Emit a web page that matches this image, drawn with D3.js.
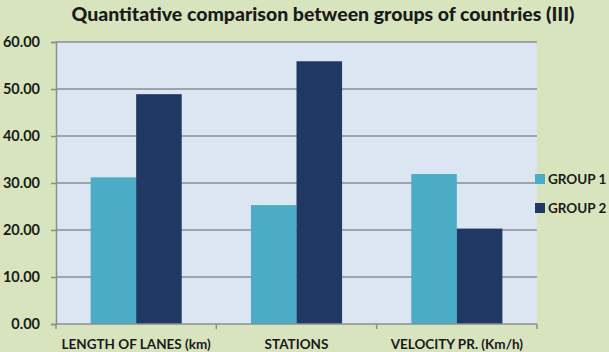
<!DOCTYPE html>
<html>
<head>
<meta charset="utf-8">
<script src="https://cdn.jsdelivr.net/npm/d3@7/dist/d3.min.js"></script>
<style>
  html, body { margin: 0; padding: 0; background: #d7e4bd; }
  svg { display: block; }
  text { font-family: Lato, "Open Sans", sans-serif; font-weight: bold; fill: #1a1a1a; }
</style>
</head>
<body>
<svg id="chart" width="609" height="352"></svg>
<script>
const title = "Quantitative comparison  between groups of countries (III)";
const categories = ["LENGTH OF LANES (km)", "STATIONS", "VELOCITY PR. (Km/h)"];
const seriesNames = ["GROUP 1", "GROUP 2"];
const group1 = [31.2, 25.3, 31.9];
const group2 = [48.9, 55.9, 20.3];
const yTicks = [0, 10, 20, 30, 40, 50, 60];
const colors = ["#4bacc6", "#1f3864"];

const svg = d3.select("#chart");
const W = 609, H = 352;
const m = { left: 56, right: 72, top: 42, bottom: 28 };
const x0 = m.left, x1 = W - m.right, yTop = m.top, yBot = H - m.bottom;

svg.append("rect").attr("width", W).attr("height", H).attr("fill", "#d7e4bd");

const x = d3.scaleBand().domain(categories).range([x0, x1]).paddingInner(0).paddingOuter(0);
const xs = d3.scaleBand().domain(seriesNames).range([0, x.bandwidth()]).paddingInner(0).paddingOuter(0.76);
const y = d3.scaleLinear().domain([0, 60]).range([yBot, yTop]);

// plot area
svg.append("rect").attr("x", x0).attr("y", yTop).attr("width", x1 - x0).attr("height", yBot - yTop).attr("fill", "#dce6f2");

// gridlines
svg.append("g").selectAll("line").data(yTicks.filter(d => d > 0)).join("line")
  .attr("x1", x0).attr("x2", x1).attr("y1", d => y(d)).attr("y2", d => y(d))
  .attr("stroke", "#8a8e94").attr("stroke-width", 1.5);

// bars
const data = categories.map((c, i) => ({ c, vals: [group1[i], group2[i]] }));
const g = svg.append("g").selectAll("g").data(data).join("g")
  .attr("transform", d => `translate(${x(d.c)},0)`);
g.selectAll("rect").data(d => d.vals.map((v, j) => ({ v, s: seriesNames[j], j }))).join("rect")
  .attr("x", d => xs(d.s)).attr("width", xs.bandwidth())
  .attr("y", d => y(d.v)).attr("height", d => yBot - y(d.v))
  .attr("fill", d => colors[d.j]);

// y axis
const yAxis = d3.axisLeft(y).tickValues(yTicks).tickFormat(d3.format(".2f")).tickSize(5).tickPadding(11);
const ya = svg.append("g").attr("transform", `translate(${x0},0)`).call(yAxis);
ya.select(".domain").attr("stroke", "#8a8e94").attr("stroke-width", 1.5);
ya.selectAll(".tick line").attr("stroke", "#8a8e94").attr("stroke-width", 1.5);
ya.selectAll(".tick text").style("font-size", "14.5px").attr("fill", "#1a1a1a");

// x axis
const xa = svg.append("g").attr("transform", `translate(0,${yBot})`);
xa.append("line").attr("x1", x0).attr("x2", x1).attr("y1", 0).attr("y2", 0).attr("stroke", "#8a8e94").attr("stroke-width", 1.5);
const bounds = categories.map(c => x(c)).concat([x1]);
xa.selectAll("line.tk").data(bounds).join("line").attr("class", "tk")
  .attr("x1", d => d).attr("x2", d => d).attr("y1", 0).attr("y2", 5)
  .attr("stroke", "#8a8e94").attr("stroke-width", 1.5);
xa.selectAll("text").data(categories).join("text")
  .attr("x", d => x(d) + x.bandwidth() / 2).attr("y", 25)
  .attr("text-anchor", "middle").style("font-size", "13.5px").text(d => d);

// title
svg.append("text").attr("x", 323).attr("y", 21).attr("text-anchor", "middle")
  .style("font-size", "18px").style("font-weight", 900).attr("textLength", 503).attr("lengthAdjust", "spacingAndGlyphs").text(title);

// legend
const lg = svg.append("g").selectAll("g").data(seriesNames).join("g")
  .attr("transform", (d, i) => `translate(535,${174 + i * 29})`);
lg.append("rect").attr("width", 10).attr("height", 10).attr("fill", (d, i) => colors[i]);
lg.append("text").attr("x", 13).attr("y", 10).style("font-size", "13.5px").text(d => d);
</script>
</body>
</html>
